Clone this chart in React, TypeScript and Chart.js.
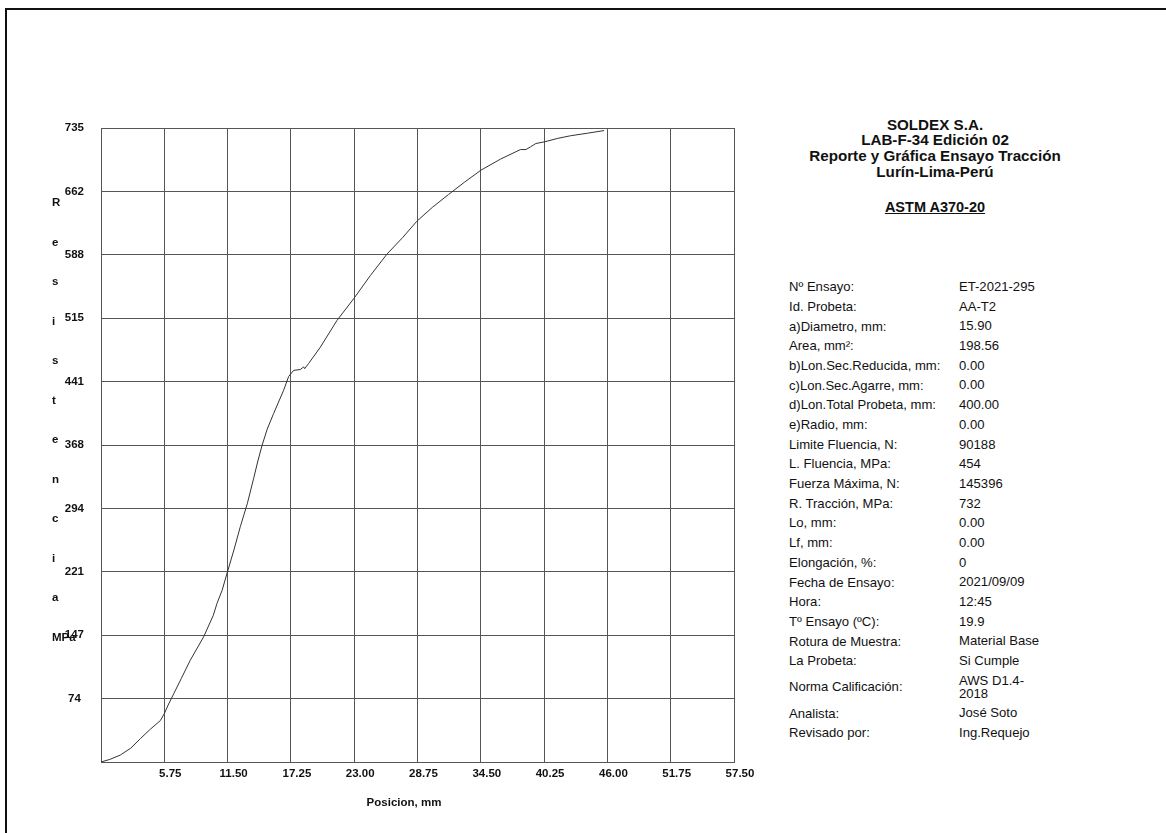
import React, { useEffect, useRef } from "react";
import { Chart, registerables } from "chart.js";

Chart.register(...registerables);

// Curve: Posicion (mm) vs Resistencia (MPa)
const posicion = [
  0, 0.8, 1.75, 2.7, 3.57, 4.48, 5.39, 5.75, 6.1, 6.6, 7.3, 8.11, 9.32, 10.2, 10.54, 11.0, 11.5,
  12.1, 12.66, 13.3, 13.87, 14.25, 14.63, 15.1, 15.68, 16.59, 17.05, 17.5, 18.1, 18.41, 18.5, 18.86,
  19.93, 21.44, 22.95, 24.47, 25.99, 27.4, 28.7, 30.1, 31.58, 33.0, 34.5, 36.3, 38.1, 38.6, 39.0,
  39.5, 40.3, 41.5, 42.65, 44.2, 45.7,
];
const resistencia = [
  0, 3, 8, 16, 27, 38, 48, 56, 66, 79, 97, 118, 145, 170, 184, 199, 221,
  247, 273, 300, 329, 349, 367, 386, 404, 431, 447, 454, 455, 458, 456, 462,
  481, 512, 537, 564, 589, 608, 627, 643, 658, 672, 686, 699, 710, 710, 713,
  717, 719, 723, 726, 729, 732,
];

const xTickValues = [0, 5.75, 11.5, 17.25, 23, 28.75, 34.5, 40.25, 46, 51.75, 57.5];
const yTickValues = [0, 73.5, 147, 220.5, 294, 367.5, 441, 514.5, 588, 661.5, 735];

const yTitleLetters = ["R", "e", "s", "i", "s", "t", "e", "n", "c", "i", "a", "MPa"];
const xTitle = "Posicion, mm";

const headerLines = [
  "SOLDEX S.A.",
  "LAB-F-34 Edición 02",
  "Reporte y Gráfica Ensayo Tracción",
  "Lurín-Lima-Perú",
];
const standardName = "ASTM A370-20";

const reportLabels = [
  "Nº Ensayo:",
  "Id. Probeta:",
  "a)Diametro, mm:",
  "Area, mm²:",
  "b)Lon.Sec.Reducida, mm:",
  "c)Lon.Sec.Agarre, mm:",
  "d)Lon.Total Probeta, mm:",
  "e)Radio, mm:",
  "Limite Fluencia, N:",
  "L. Fluencia, MPa:",
  "Fuerza Máxima, N:",
  "R. Tracción, MPa:",
  "Lo, mm:",
  "Lf, mm:",
  "Elongación, %:",
  "Fecha de Ensayo:",
  "Hora:",
  "Tº Ensayo (ºC):",
  "Rotura de Muestra:",
  "La Probeta:",
  "Norma Calificación:",
  "Analista:",
  "Revisado por:",
];
const reportValues = [
  "ET-2021-295",
  "AA-T2",
  "15.90",
  "198.56",
  "0.00",
  "0.00",
  "400.00",
  "0.00",
  "90188",
  "454",
  "145396",
  "732",
  "0.00",
  "0.00",
  "0",
  "2021/09/09",
  "12:45",
  "19.9",
  "Material Base",
  "Si Cumple",
  "AWS D1.4-2018",
  "José Soto",
  "Ing.Requejo",
];

const FONT = '"Liberation Sans", Arial, Helvetica, sans-serif';

export default function App() {
  const canvasRef = useRef<HTMLCanvasElement | null>(null);

  useEffect(() => {
    if (!canvasRef.current) return;
    const points = posicion.map((x, i) => ({ x, y: resistencia[i] }));
    const chart = new Chart(canvasRef.current, {
      type: "line",
      data: {
        datasets: [
          {
            data: points,
            borderColor: "#333",
            borderWidth: 1,
            pointRadius: 0,
            tension: 0,
            fill: false,
          },
        ],
      },
      options: {
        animation: false,
        responsive: false,
        maintainAspectRatio: false,
        layout: { padding: { left: 0, top: 120, right: 34, bottom: 0 } },
        plugins: { legend: { display: false }, tooltip: { enabled: false }, title: { display: false } },
        scales: {
          x: {
            type: "linear",
            min: 0,
            max: 57.5,
            afterBuildTicks: (scale: any) => {
              scale.ticks = xTickValues.map((v) => ({ value: v }));
            },
            afterFit: (scale: any) => {
              scale.height = 46;
            },
            grid: { color: "#555", lineWidth: 1, drawTicks: false },
            border: { color: "#555", width: 1 },
            ticks: {
              padding: 5,
              labelOffset: 6,
              maxRotation: 0,
              autoSkip: false,
              color: "#111",
              font: { family: FONT, size: 11.5, weight: "bold" },
              callback: (v: any) => (Number(v) === 0 ? "" : Number(v).toFixed(2)),
            },
          },
          y: {
            type: "linear",
            min: 0,
            max: 735,
            afterBuildTicks: (scale: any) => {
              scale.ticks = yTickValues.map((v) => ({ value: v }));
            },
            afterFit: (scale: any) => {
              scale.width = 93;
            },
            grid: { color: "#555", lineWidth: 1, drawTicks: false },
            border: { color: "#555", width: 1 },
            ticks: {
              padding: 17,
              crossAlign: "center",
              autoSkip: false,
              color: "#111",
              font: { family: FONT, size: 11.5, weight: "bold" },
              callback: (v: any) => (Number(v) === 0 ? "" : String(Math.round(Number(v)))),
            },
          },
        },
      },
    });
    return () => chart.destroy();
  }, []);

  const rowH = 19.7;
  const normaIndex = reportLabels.indexOf("Norma Calificación:");

  return (
    <div
      style={{
        position: "fixed",
        left: 0,
        top: 0,
        width: 1166,
        height: 833,
        overflow: "hidden",
        background: "#fff",
        fontFamily: FONT,
        color: "#111",
      }}
    >
      <div
        style={{
          position: "absolute",
          left: 5,
          top: 8,
          width: 1300,
          height: 1000,
          borderLeft: "2px solid #111",
          borderTop: "2px solid #111",
        }}
      />
      <canvas
        ref={canvasRef}
        width={760}
        height={800}
        style={{ position: "absolute", left: 8, top: 8, width: 760, height: 800 }}
      />
      {yTitleLetters.map((ch, i) => (
        <div
          key={"yt" + i}
          style={{
            position: "absolute",
            left: 52,
            top: 202 + i * 39.5 - 7,
            fontSize: 11.5,
            fontWeight: "bold",
            lineHeight: "14px",
            whiteSpace: "nowrap",
          }}
        >
          {ch}
        </div>
      ))}
      <div
        style={{
          position: "absolute",
          left: 304,
          width: 200,
          top: 795,
          textAlign: "center",
          fontSize: 11.5,
          fontWeight: "bold",
          lineHeight: "14px",
        }}
      >
        {xTitle}
      </div>
      <div
        style={{
          position: "absolute",
          left: 780,
          width: 310,
          top: 116.6,
          textAlign: "center",
          fontSize: 15.2,
          fontWeight: "bold",
          lineHeight: "15.8px",
        }}
      >
        {headerLines.map((l, i) => (
          <div key={"h" + i}>{l}</div>
        ))}
      </div>
      <div
        style={{
          position: "absolute",
          left: 780,
          width: 310,
          top: 199,
          textAlign: "center",
          fontSize: 14.5,
          fontWeight: "bold",
          lineHeight: "16px",
          textDecoration: "underline",
        }}
      >
        {standardName}
      </div>
      <div style={{ position: "absolute", left: 789, top: 276.85, fontSize: 13.1 }}>
        {reportLabels.map((lab, i) => (
          <div
            key={"r" + i}
            style={{
              display: "flex",
              alignItems: "center",
              height: i === normaIndex ? 32.6 : rowH,
            }}
          >
            <div style={{ width: 170, whiteSpace: "nowrap", lineHeight: "15px" }}>{lab}</div>
            <div style={{ width: 88, lineHeight: "13.3px" }}>{reportValues[i]}</div>
          </div>
        ))}
      </div>
    </div>
  );
}
